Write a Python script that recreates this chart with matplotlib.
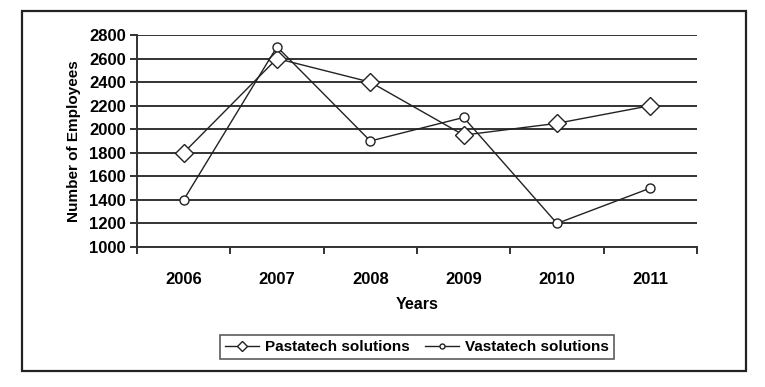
import matplotlib.pyplot as plt
from matplotlib.patches import Rectangle

years = ['2006', '2007', '2008', '2009', '2010', '2011']
pastatech = [1800, 2600, 2400, 1950, 2050, 2200]
vastatech = [1400, 2700, 1900, 2100, 1200, 1500]

plt.rcParams['font.family'] = ['Liberation Sans', 'DejaVu Sans']
plt.rcParams['font.weight'] = 'bold'


def main():
    fig = plt.figure(figsize=(7.65, 3.87), dpi=100)
    # outer frame
    fig.patches.append(Rectangle((22 / 765, 1 - 371 / 387), 724 / 765, 360 / 387,
                                 transform=fig.transFigure, fill=False,
                                 edgecolor='#222222', linewidth=1.6))
    ax = fig.add_axes([137 / 765, 1 - 247 / 387, 560 / 765, 212 / 387])

    pos = range(len(years))
    ax.plot(pos, pastatech, color='#222222', linewidth=1, marker='D',
            markersize=9, markerfacecolor='white', markeredgecolor='#222222',
            markeredgewidth=1, label='Pastatech solutions', zorder=3)
    ax.plot(pos, vastatech, color='#222222', linewidth=1, marker='o',
            markersize=6.5, markerfacecolor='white', markeredgecolor='#222222',
            markeredgewidth=1, label='Vastatech solutions', zorder=3)

    ax.set_xlim(-0.5, len(years) - 0.5)
    ax.set_ylim(1000, 2800)
    ax.set_yticks(range(1000, 2801, 200))
    ax.yaxis.grid(True, color='#333333', linewidth=1.4)
    ax.set_axisbelow(True)

    ax.set_xticks(list(pos))
    ax.set_xticklabels(years, fontsize=12, fontweight='bold')
    ax.set_xticks([i - 0.5 for i in range(len(years) + 1)], minor=True)
    ax.tick_params(axis='x', which='major', length=0, pad=18)
    ax.tick_params(axis='x', which='minor', length=5, width=1.4, color='#333333')
    ax.tick_params(axis='y', length=5, width=1.4, color='#333333', labelsize=12, pad=3)
    for lab in ax.get_yticklabels():
        lab.set_fontweight('bold')

    ax.spines['top'].set_visible(False)
    ax.spines['right'].set_visible(False)
    ax.spines['left'].set_linewidth(1.4)
    ax.spines['bottom'].set_linewidth(1.4)
    ax.spines['left'].set_color('#333333')
    ax.spines['bottom'].set_color('#333333')

    ax.set_xlabel('Years', fontsize=11.5, fontweight='bold', labelpad=7)
    ax.set_ylabel('Number of Employees', fontsize=11, fontweight='bold', labelpad=6)

    leg = ax.legend(loc='center', bbox_to_anchor=(417 / 765, 1 - 347 / 387),
                    bbox_transform=fig.transFigure, ncol=2, frameon=True,
                    fancybox=False, edgecolor='#333333', fontsize=11,
                    markerscale=0.55, handlelength=2.2, handletextpad=0.4,
                    columnspacing=1.0, borderpad=0.35)
    leg.get_frame().set_linewidth(1.2)
    for t in leg.get_texts():
        t.set_fontweight('bold')

    plt.savefig('out.png', dpi=100)


if __name__ == '__main__':
    main()
